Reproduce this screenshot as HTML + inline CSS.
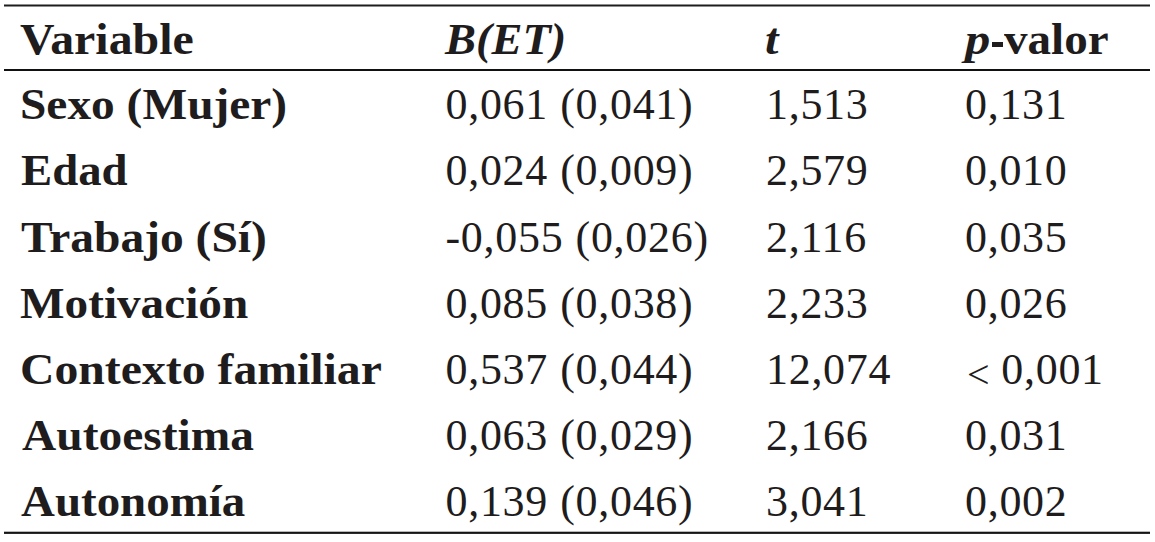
<!DOCTYPE html>
<html><head><meta charset="utf-8">
<style>
html,body{-webkit-font-smoothing:antialiased;margin:0;padding:0;background:#fff;width:1155px;height:542px;overflow:hidden;position:relative}
.t{position:absolute;white-space:nowrap;font-family:"Liberation Serif",serif;font-size:44px;line-height:44px;color:#1f1c1d}
.b{font-weight:bold;transform-origin:0 0;transform:scaleX(1.088)}
.n{letter-spacing:0.7px;word-spacing:0.5px}
.bi{font-weight:bold;font-style:italic;transform-origin:0 0}
svg{position:absolute;left:0;top:0}
</style></head><body>
<svg width="1155" height="542" viewBox="0 0 1155 542">
<rect x="4" y="4.5" width="1146" height="2" fill="#1f1c1d"/>
<rect x="4" y="69" width="1146" height="2" fill="#111"/>
<rect x="4" y="531.7" width="1146" height="2.2" fill="#151515"/>
</svg>

<div class="t b" style="left:19.61px;top:18px;transform:scaleX(1.088)">Variable</div>
<div class="t bi" style="left:445px;top:18px;transform:scaleX(1.056)">B(ET)</div>
<div class="t bi" style="left:765px;top:18px;transform:scaleX(1.1)">t</div>
<div class="t bi" style="left:964.7px;top:18px;transform:scaleX(1.15)">p</div>
<div style="position:absolute;left:992px;top:42.2px;width:11px;height:4.6px;background:#1f1c1d"></div>
<div class="t b" style="left:1004.4px;top:18px;transform:scaleX(1.07)">valor</div>
<div class="t b" style="left:19.85px;top:83.3px;transform:scaleX(1.077)">Sexo (Mujer)</div>
<div class="t n" style="left:445.5px;top:83.3px">0,061 (0,041)</div>
<div class="t n" style="left:766px;top:83.3px">1,513</div>
<div class="t n" style="left:965px;top:83.3px">0,131</div>
<div class="t b" style="left:21.14px;top:149.47px;transform:scaleX(1.0626)">Edad</div>
<div class="t n" style="left:445.5px;top:149.47px">0,024 (0,009)</div>
<div class="t n" style="left:766px;top:149.47px">2,579</div>
<div class="t n" style="left:965px;top:149.47px">0,010</div>
<div class="t b" style="left:20.52px;top:215.64px;transform:scaleX(1.0796)">Trabajo (Sí)</div>
<div class="t n" style="left:445.5px;top:215.64px">-0,055 (0,026)</div>
<div class="t n" style="left:766px;top:215.64px">2,116</div>
<div class="t n" style="left:965px;top:215.64px">0,035</div>
<div class="t b" style="left:20.23px;top:281.81px;transform:scaleX(1.073)">Motivación</div>
<div class="t n" style="left:445.5px;top:281.81px">0,085 (0,038)</div>
<div class="t n" style="left:766px;top:281.81px">2,233</div>
<div class="t n" style="left:965px;top:281.81px">0,026</div>
<div class="t b" style="left:19.83px;top:347.98px;transform:scaleX(1.0846)">Contexto familiar</div>
<div class="t n" style="left:445.5px;top:347.98px">0,537 (0,044)</div>
<div class="t n" style="left:766px;top:347.98px">12,074</div>
<div class="t" style="left:967px;top:353.28000000000003px;font-size:40px">&lt;</div>
<div class="t n" style="left:1001.3px;top:347.98px">0,001</div>
<div class="t b" style="left:21.6px;top:414.15px;transform:scaleX(1.0785)">Autoestima</div>
<div class="t n" style="left:445.5px;top:414.15px">0,063 (0,029)</div>
<div class="t n" style="left:766px;top:414.15px">2,166</div>
<div class="t n" style="left:965px;top:414.15px">0,031</div>
<div class="t b" style="left:21.2px;top:480.32px;transform:scaleX(1.0667)">Autonomía</div>
<div class="t n" style="left:445.5px;top:480.32px">0,139 (0,046)</div>
<div class="t n" style="left:766px;top:480.32px">3,041</div>
<div class="t n" style="left:965px;top:480.32px">0,002</div>
</body></html>
